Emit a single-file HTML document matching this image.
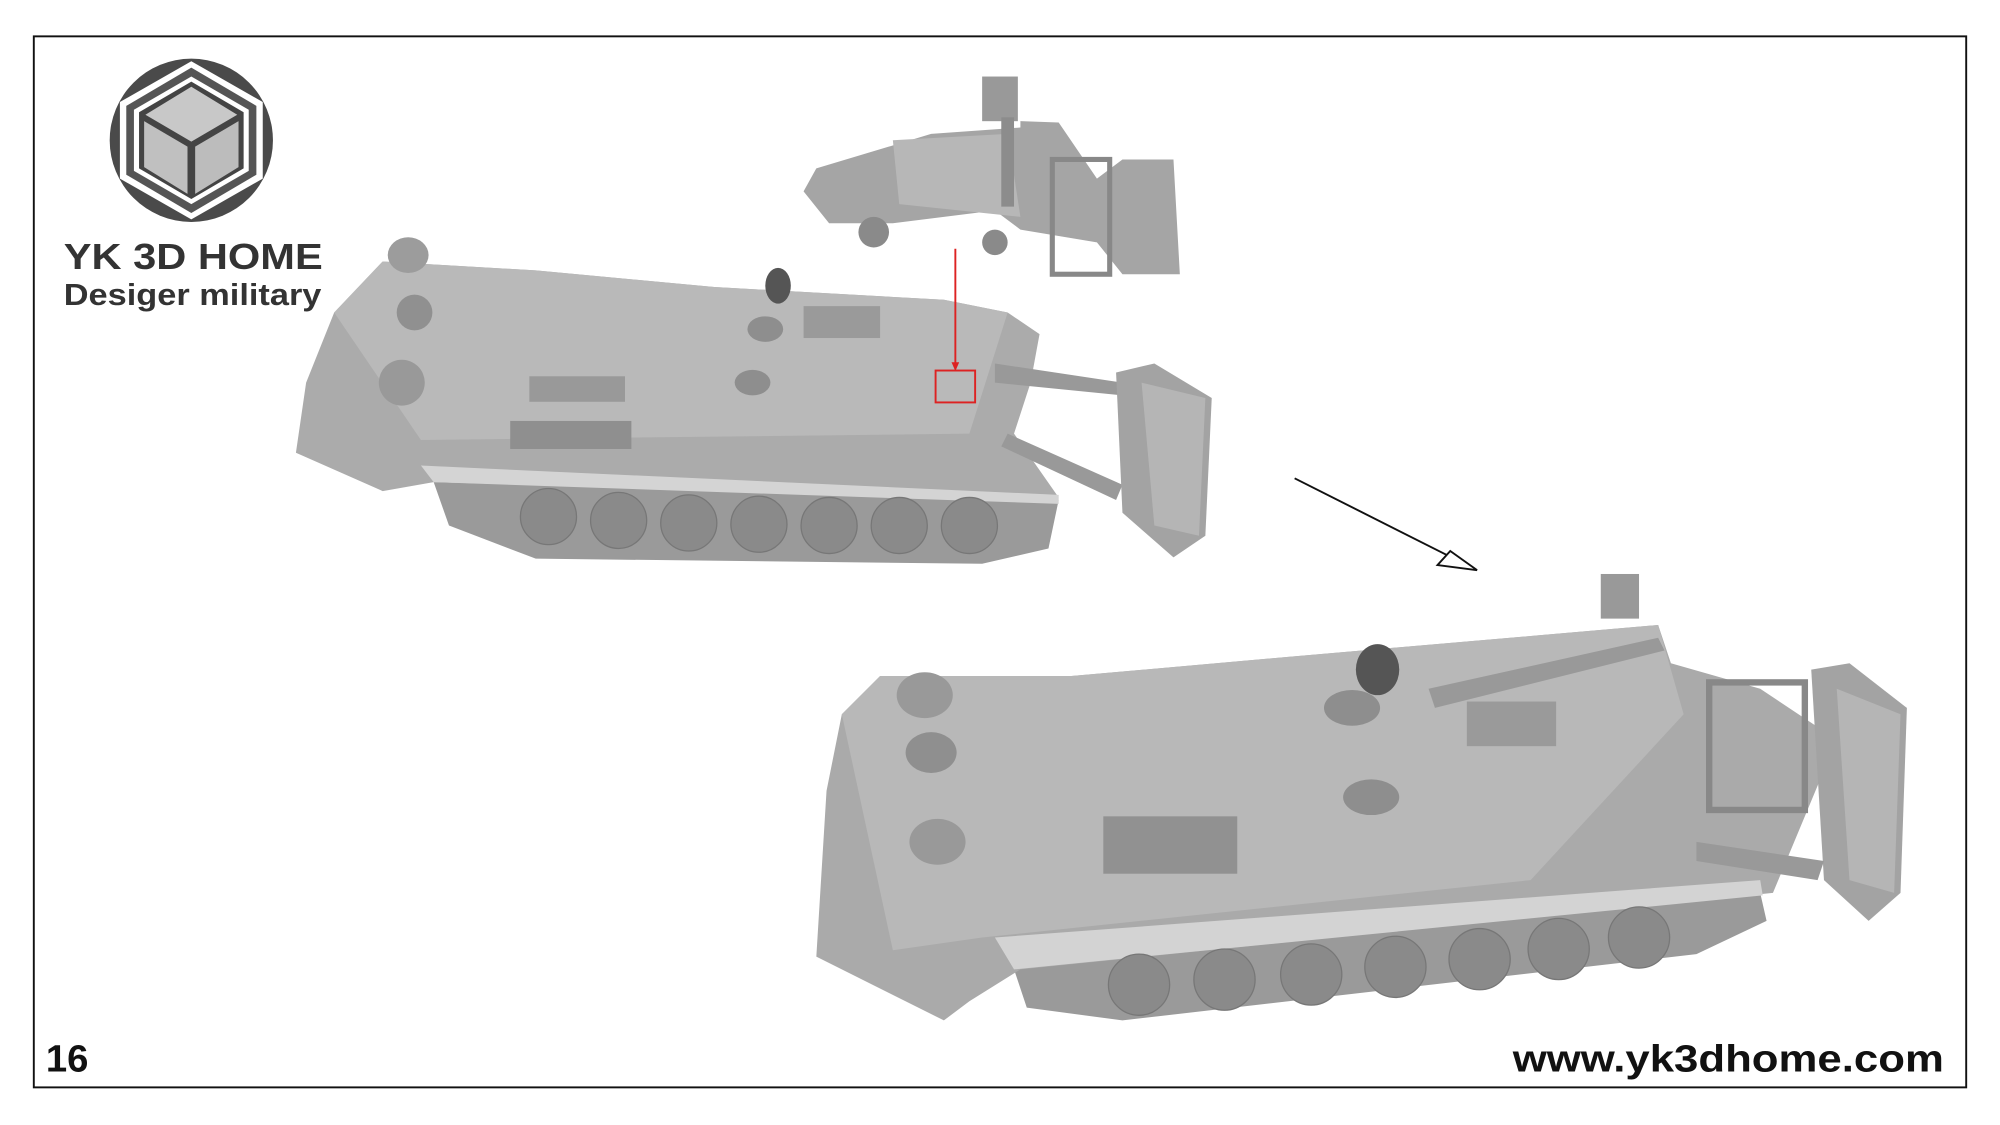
<!DOCTYPE html>
<html><head><meta charset="utf-8"><style>
html,body{margin:0;padding:0;background:#fff;}
svg{display:block;}
</style></head><body>
<svg width="2000" height="1125" viewBox="0 0 1568 882" preserveAspectRatio="none" xmlns="http://www.w3.org/2000/svg">
<rect x="0" y="0" width="1568" height="882" fill="#fff"/>
<rect x="26.5" y="28.5" width="1515" height="824" fill="none" stroke="#111" stroke-width="1.5"/>
<!-- logo -->
<circle cx="150" cy="110" r="64" fill="#4a4a4a"/>
<polygon points="150,48 206,80 206,140 150,172 94,140 94,80" fill="#fff"/>
<polygon points="150,53 201,83 201,137 150,167 99,137 99,83" fill="#555"/>
<polygon points="150,60 195,86 195,134 150,160 105,134 105,86" fill="#fff"/>
<polygon points="150,64 191,88 191,132 150,156 109,132 109,88" fill="#444"/>
<polygon points="150,68 186,90 150,111 114,90" fill="#c8c8c8"/>
<polygon points="113,95 147,115 147,152 113,131" fill="#c0c0c0"/>
<polygon points="153,115 187,95 187,131 153,152" fill="#bcbcbc"/>
<text x="50" y="211" textLength="203" lengthAdjust="spacingAndGlyphs" font-family="Liberation Sans, sans-serif" font-weight="bold" font-size="28" fill="#333">YK 3D HOME</text>
<text x="50" y="239" textLength="202" lengthAdjust="spacingAndGlyphs" font-family="Liberation Sans, sans-serif" font-weight="bold" font-size="24" fill="#333">Desiger military</text>
<text x="36" y="840" font-family="Liberation Sans, sans-serif" font-weight="bold" font-size="30" fill="#111">16</text>
<text x="1186" y="840" textLength="338" lengthAdjust="spacingAndGlyphs" font-family="Liberation Sans, sans-serif" font-weight="bold" font-size="30" fill="#111">www.yk3dhome.com</text>

<!-- tank 1 -->
<g>
<polygon points="340,378 830,392 822,430 770,442 420,438 352,412" fill="#9a9a9a"/>
<polygon points="232,355 240,300 262,245 300,205 420,212 560,225 740,235 790,245 815,262 808,300 795,340 830,390 340,378 300,385" fill="#ababab"/>
<polygon points="262,245 300,205 420,212 560,225 740,235 790,245 760,340 330,345" fill="#b9b9b9"/>
<polygon points="330,365 830,388 830,395 340,378" fill="#d4d4d4"/>
<rect x="400" y="330" width="95" height="22" fill="#8f8f8f"/>
<rect x="415" y="295" width="75" height="20" fill="#999"/>
<circle cx="315" cy="300" r="18" fill="#999"/><circle cx="325" cy="245" r="14" fill="#909090"/>
<ellipse cx="320" cy="200" rx="16" ry="14" fill="#9c9c9c"/>
<ellipse cx="610" cy="224" rx="10" ry="14" fill="#555"/>
<ellipse cx="600" cy="258" rx="14" ry="10" fill="#8e8e8e"/><ellipse cx="590" cy="300" rx="14" ry="10" fill="#8e8e8e"/>
<rect x="630" y="240" width="60" height="25" fill="#9a9a9a"/>
<g fill="#8a8a8a" stroke="#777" stroke-width="1">
<circle cx="430" cy="405" r="22"/><circle cx="485" cy="408" r="22"/><circle cx="540" cy="410" r="22"/><circle cx="595" cy="411" r="22"/><circle cx="650" cy="412" r="22"/><circle cx="705" cy="412" r="22"/><circle cx="760" cy="412" r="22"/>
</g>
<polygon points="780,285 880,300 880,310 780,300" fill="#999"/>
<polygon points="790,340 880,380 875,392 785,350" fill="#999"/>
<polygon points="875,292 905,285 950,312 945,420 920,437 880,402" fill="#a3a3a3"/>
<polygon points="895,300 945,312 940,420 905,412" fill="#b5b5b5"/>
</g>
<!-- crane -->
<g>
<polygon points="630,150 640,132 730,105 800,100 800,95 830,96 860,140 880,125 920,125 925,215 880,215 860,190 800,180 780,165 700,175 650,175" fill="#a5a5a5"/>
<polygon points="700,110 790,105 800,170 705,160" fill="#b7b7b7"/>
<rect x="770" y="60" width="28" height="35" fill="#999"/>
<rect x="785" y="92" width="10" height="70" fill="#8c8c8c"/>
<circle cx="685" cy="182" r="12" fill="#8a8a8a"/><circle cx="780" cy="190" r="10" fill="#8a8a8a"/>
<rect x="825" y="125" width="45" height="90" fill="none" stroke="#888" stroke-width="4"/>
</g>
<line x1="749" y1="195" x2="749" y2="288" stroke="#d22" stroke-width="1.5"/>
<polygon points="746,284 752,284 749,291" fill="#d22"/>
<rect x="733.5" y="290.5" width="31" height="25" fill="none" stroke="#d22" stroke-width="1.5"/>
<!-- arrow -->
<line x1="1015" y1="375" x2="1142" y2="439" stroke="#111" stroke-width="1.5"/>
<polygon points="1158,447 1127,443 1137,432" fill="#fff" stroke="#111" stroke-width="1.5"/>
<!-- tank 2 -->
<g>
<polygon points="795,760 1380,700 1385,722 1330,748 880,800 805,790" fill="#9a9a9a"/>
<polygon points="640,750 648,620 660,560 690,530 840,530 1010,515 1300,490 1310,520 1380,540 1440,580 1390,700 800,760 760,785 740,800" fill="#aaaaaa"/>
<polygon points="660,560 690,530 840,530 1010,515 1300,490 1320,560 1200,690 770,735 700,745" fill="#b8b8b8"/>
<polygon points="780,735 1380,690 1382,702 795,760" fill="#d3d3d3"/>
<rect x="865" y="640" width="105" height="45" fill="#919191"/>
<ellipse cx="725" cy="545" rx="22" ry="18" fill="#999"/><ellipse cx="730" cy="590" rx="20" ry="16" fill="#8f8f8f"/><ellipse cx="735" cy="660" rx="22" ry="18" fill="#999"/>
<ellipse cx="1080" cy="525" rx="17" ry="20" fill="#555"/>
<ellipse cx="1060" cy="555" rx="22" ry="14" fill="#8e8e8e"/><ellipse cx="1075" cy="625" rx="22" ry="14" fill="#8e8e8e"/>
<rect x="1150" y="550" width="70" height="35" fill="#9a9a9a"/>
<rect x="1255" y="450" width="30" height="35" fill="#999"/>
<polygon points="1120,540 1300,500 1305,510 1125,555" fill="#999"/>
<g fill="#8a8a8a" stroke="#777" stroke-width="1">
<circle cx="893" cy="772" r="24"/><circle cx="960" cy="768" r="24"/><circle cx="1028" cy="764" r="24"/><circle cx="1094" cy="758" r="24"/><circle cx="1160" cy="752" r="24"/><circle cx="1222" cy="744" r="24"/><circle cx="1285" cy="735" r="24"/>
</g>
<rect x="1340" y="535" width="75" height="100" fill="none" stroke="#888" stroke-width="5"/>
<polygon points="1420,525 1450,520 1495,555 1490,700 1465,722 1430,690" fill="#a3a3a3"/>
<polygon points="1440,540 1490,560 1485,700 1450,690" fill="#b5b5b5"/>
<polygon points="1330,660 1430,675 1425,690 1330,675" fill="#999"/>
</g>
</svg>
</body></html>
